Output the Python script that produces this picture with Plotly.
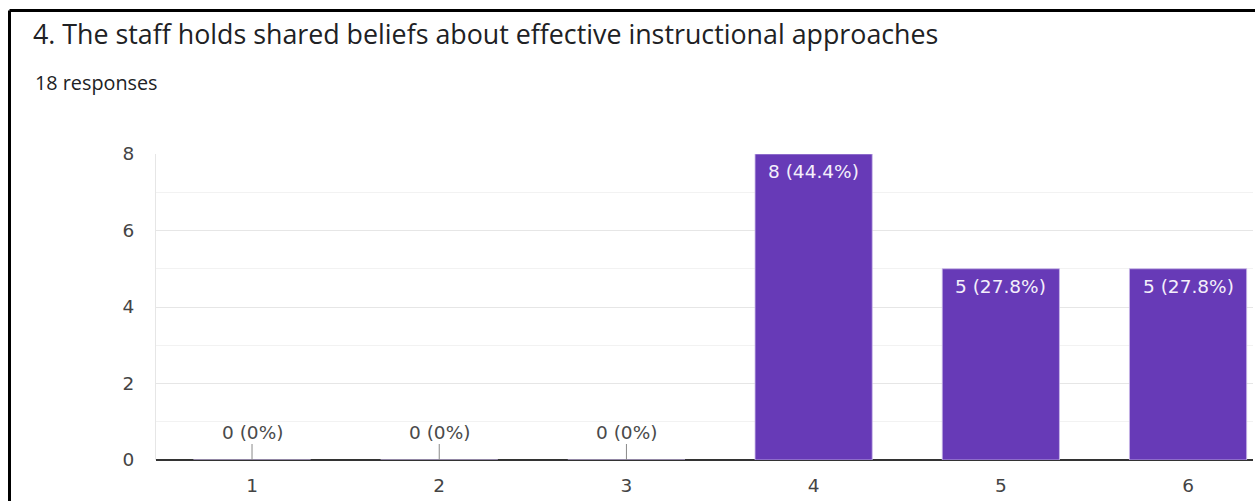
import plotly.graph_objects as go

# Survey question and response counts per rating
question = "4. The staff holds shared beliefs about effective instructional approaches"
ratings = ["1", "2", "3", "4", "5", "6"]
counts = [0, 0, 0, 8, 5, 5]
y_ticks = [0, 2, 4, 6, 8]

total = sum(counts)

W, H = 1255, 501
ML, MR, MT, MB = 156, 2, 154, 41
PW, PH = W - ML - MR, H - MT - MB


def px_x(px):
    return (px - ML) / PW


def px_y(py):
    return (H - MB - py) / PH


def pct_text(v):
    p = v / total * 100 if total else 0
    s = f"{p:.1f}".rstrip("0").rstrip(".")
    return f"{v} ({s}%)"


BAR = "#673ab7"
LABEL_FONT = dict(family="DejaVu Sans, Arial", size=18.5)

fig = go.Figure(
    go.Bar(
        x=list(range(len(ratings))),
        y=counts,
        width=0.626,
        marker=dict(color=BAR, line=dict(color="#c9b8e8", width=0.8)),
        hoverinfo="skip",
    )
)

annotations = []
for i, v in enumerate(counts):
    if v > 0:
        annotations.append(dict(
            x=i, y=v, xref="x", yref="y", text=pct_text(v), showarrow=False,
            yanchor="top", yshift=-5, font=dict(color="#f4effb", **LABEL_FONT),
        ))
    else:
        annotations.append(dict(
            x=i, y=v, xref="x", yref="y", text=pct_text(v), showarrow=True,
            arrowhead=0, arrowwidth=1, arrowcolor="#8a8a8a", ax=0, ay=-28,
            standoff=0, font=dict(color="#4a4a4a", **LABEL_FONT),
        ))

annotations.append(dict(
    x=px_x(33), y=px_y(83), xref="paper", yref="paper", text="18 responses",
    showarrow=False, xanchor="left", yanchor="middle",
    font=dict(family="Open Sans, Roboto, Arial", size=19.8, color="#202124"),
))

shapes = [
    # card border (top and left edges)
    dict(type="line", xref="paper", yref="paper",
         x0=px_x(9.5), x1=px_x(W + 5), y0=px_y(10.5), y1=px_y(10.5),
         line=dict(color="black", width=3)),
    dict(type="line", xref="paper", yref="paper",
         x0=px_x(9.5), x1=px_x(9.5), y0=px_y(10.5), y1=px_y(H + 5),
         line=dict(color="black", width=3)),
]

fig.update_layout(
    width=W, height=H,
    margin=dict(l=ML, r=MR, t=MT, b=MB),
    paper_bgcolor="white", plot_bgcolor="white",
    showlegend=False,
    title=dict(
        text=question, x=33 / W, y=1 - 35 / H, xref="container", yref="container",
        xanchor="left", yanchor="middle",
        font=dict(family="Open Sans, Roboto, Arial", size=26.8, color="#202124"),
    ),
    annotations=annotations,
    shapes=shapes,
)

fig.update_xaxes(
    range=[-0.513, 5.347],
    tickmode="array", tickvals=list(range(len(ratings))), ticktext=ratings,
    showgrid=False, zeroline=False,
    showline=False, ticks="", ticklabelstandoff=12,
    tickfont=dict(color="#444444", **LABEL_FONT),
    fixedrange=True,
)

fig.update_yaxes(
    range=[0, 8],
    tickmode="array", tickvals=y_ticks,
    showgrid=True, gridcolor="#e6e6e6", gridwidth=1,
    minor=dict(dtick=1, showgrid=True, gridcolor="#f2f2f2", gridwidth=1),
    zeroline=True, zerolinecolor="#333333", zerolinewidth=2,
    showline=True, linecolor="#e6e6e6", linewidth=1,
    ticks="", ticklabelstandoff=17,
    tickfont=dict(color="#444444", **LABEL_FONT),
    fixedrange=True,
)

fig.write_html("out.html", config={"displayModeBar": False})
